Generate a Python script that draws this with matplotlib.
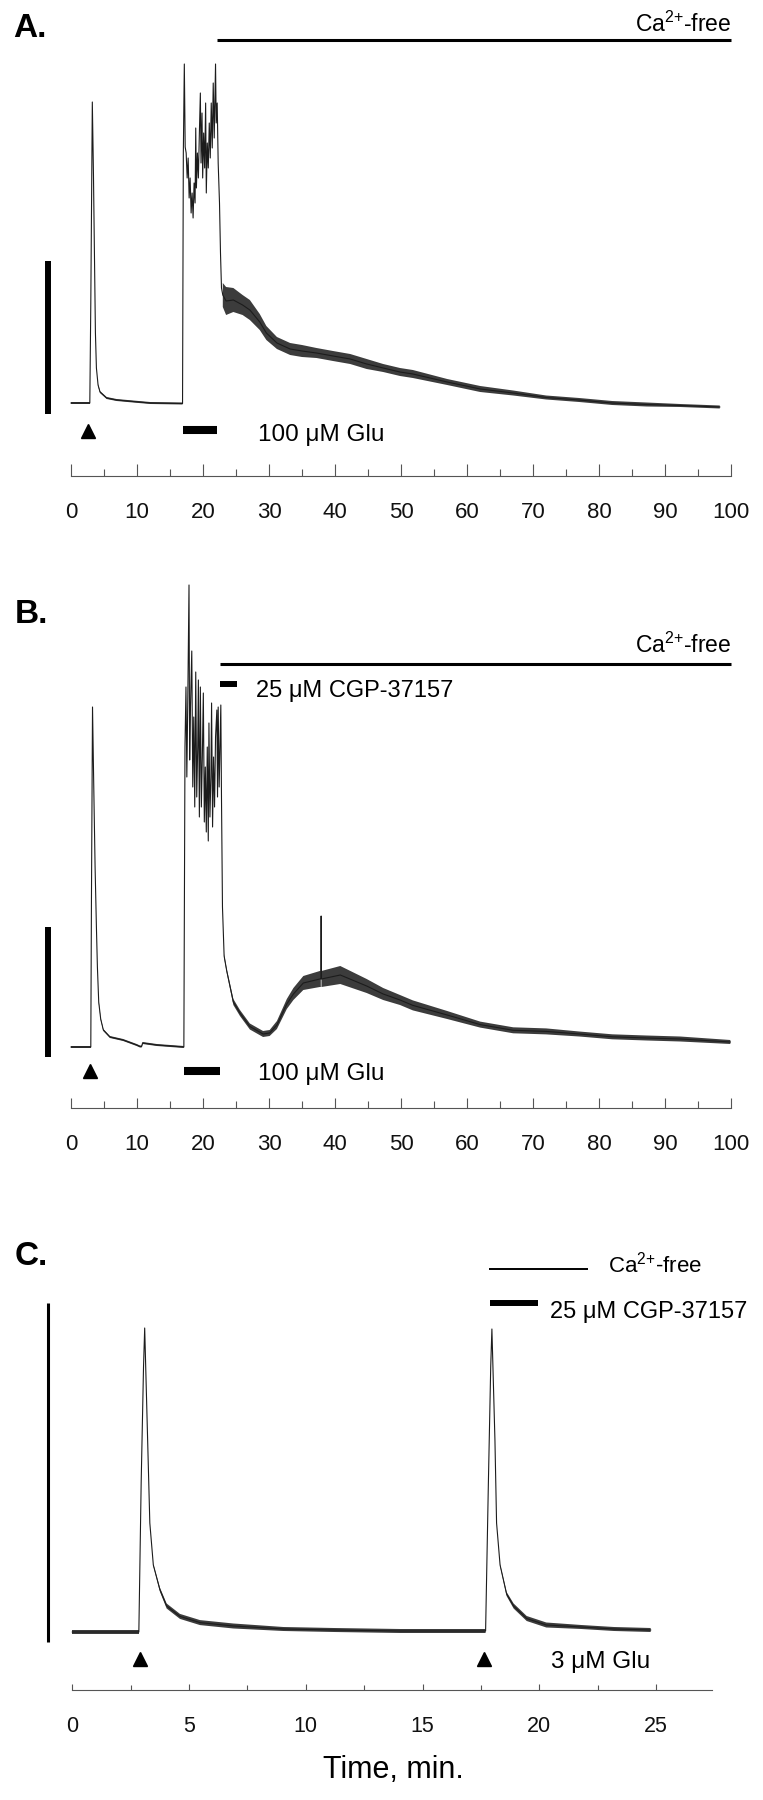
import matplotlib
matplotlib.use("Agg")
import matplotlib.pyplot as plt
import numpy as np
from matplotlib.ticker import FixedLocator

plt.rcParams['font.family'] = ['Liberation Sans', 'DejaVu Sans']
plt.rcParams['mathtext.fontset'] = 'custom'
plt.rcParams['mathtext.rm'] = 'Liberation Sans'
plt.rcParams['mathtext.it'] = 'Liberation Sans:italic'
plt.rcParams['mathtext.bf'] = 'Liberation Sans:bold'

# ---------------- data (time in min, signal in arbitrary units) ----------------
a_time = [0.0, 2.85, 3.0, 3.23, 3.4, 3.55, 3.7, 3.85, 4.1, 4.4, 5.4, 6.9, 9.4, 12.0, 16.9,
          17.02, 17.17, 17.3, 17.45, 17.6, 17.75, 17.9, 18.05, 18.2, 18.35, 18.5, 18.65, 18.8,
          18.9, 19.0, 19.15, 19.3, 19.45, 19.6, 19.7, 19.85, 19.95, 20.1, 20.25, 20.4, 20.5,
          20.65, 20.8, 20.95, 21.1, 21.25, 21.4, 21.55, 21.7, 21.9, 22.0, 22.15, 22.3, 22.5,
          22.65, 22.8, 23.0, 23.5, 24.6, 26.0, 27.1, 28.6, 29.6, 31.2, 33.2, 35.0, 37.2, 39.7,
          42.3, 44.8, 47.3, 49.85, 51.8, 57.0, 62.0, 67.0, 72.0, 77.0, 82.0, 87.2, 92.3, 98.3]
a_signal = [0, 0, 100, 301, 230, 150, 70, 35, 18, 11, 5, 3, 1.5, 0, -0.5,
            250, 339, 256, 250, 225, 245, 205, 225, 190, 210, 185, 220, 200,
            275, 215, 250, 225, 270, 310, 240, 290, 225, 270, 235, 300, 210,
            260, 235, 280, 245, 300, 255, 320, 265, 339, 280, 300, 240, 200,
            150, 115, 108, 102, 103, 98, 93, 81, 70, 60, 54, 52, 50, 47,
            44, 39, 35, 31, 29, 21, 14, 10, 5.5, 3, 0, -1.5, -2.5, -4]
a_noise = [1, 1, 0, 0, 0, 0, 0, 0, 1, 1, 1, 1, 1, 1, 1,
           0, 0, 0, 0, 0, 0, 0, 0, 0, 0, 0, 0, 0,
           0, 0, 0, 0, 0, 0, 0, 0, 0, 0, 0, 0, 0,
           0, 0, 0, 0, 0, 0, 0, 0, 0, 0, 0, 0, 0,
           0, 0, 12, 14, 12, 10, 10, 8, 7, 6, 6, 6, 5, 5,
           5, 5, 4, 4, 4, 3, 3, 2.5, 2, 2, 2, 2, 1.5, 1.5]

b_time = [0.0, 3.0, 3.1, 3.26, 3.45, 3.65, 3.85, 4.0, 4.2, 4.5, 4.9, 5.9, 7.9, 9.95, 10.45,
          10.7, 10.85, 13.0, 17.1, 17.27, 17.42, 17.55, 17.7, 17.88, 17.98, 18.1, 18.3, 18.45,
          18.6, 18.75, 18.9, 19.05, 19.2, 19.3, 19.45, 19.6, 19.75, 19.9, 20.05, 20.2, 20.35,
          20.5, 20.65, 20.8, 20.9, 21.05, 21.2, 21.3, 21.45, 21.6, 21.75, 21.9, 22.1, 22.2,
          22.3, 22.45, 22.7, 22.8, 22.95, 23.2, 23.6, 24.6, 25.6, 27.1, 29.1, 30.1, 31.2, 32.7,
          33.7, 35.2, 37.7, 37.85, 37.9, 37.95, 40.8, 42.8, 44.8, 47.3, 49.85, 51.8, 57.0,
          62.0, 67.0, 72.0, 77.0, 82.0, 87.2, 92.3, 99.9]
b_signal = [0, 0, 150, 340, 260, 180, 120, 80, 45, 28, 17, 10, 7, 2, 0.5,
            0.5, 4, 2, 0, 300, 360, 270, 350, 462, 287, 340, 396, 260,
            330, 240, 375, 250, 300, 367, 230, 360, 240, 290, 354, 225, 280,
            215, 300, 206, 324, 230, 270, 344, 220, 290, 240, 310, 337, 250,
            340, 260, 342, 250, 140, 91, 76, 45, 34, 20.5, 13, 14, 22, 43,
            53, 64, 68, 68, 131, 68, 72, 66.5, 61, 53, 47, 41.6, 32,
            22.4, 16.7, 15.6, 13, 10.2, 9, 8, 5]
b_noise = [1, 1, 0, 0, 0, 0, 0, 0, 1, 1, 1, 1, 1, 1, 1,
           1, 1, 1, 1, 0, 0, 0, 0, 0, 0, 0, 0, 0,
           0, 0, 0, 0, 0, 0, 0, 0, 0, 0, 0, 0, 0,
           0, 0, 0, 0, 0, 0, 0, 0, 0, 0, 0, 0, 0,
           0, 0, 0, 0, 0, 2, 2, 3, 3, 3, 3, 3, 4, 5,
           6, 7, 8, 8, 0, 8, 9, 8, 7, 6, 5, 5, 4,
           3, 3, 3, 2.5, 2.5, 2.5, 2.5, 2]

c_time = [0.0, 2.85, 2.95, 3.05, 3.1, 3.18, 3.32, 3.47, 3.75, 4.04, 4.61, 5.47, 6.9, 9.04,
          11.2, 14.04, 17.7, 17.82, 17.92, 17.97, 18.1, 18.17, 18.32, 18.6, 18.9, 19.46, 20.3,
          21.8, 23.2, 24.77]
c_signal = [0, 0, 150, 265, 304, 233, 109, 67, 42.5, 26, 15.6, 9.4, 6, 3,
            2, 1, 1, 150, 266, 303, 192, 109, 67, 38, 26, 13.5, 7,
            5, 3, 2]
c_noise = [2, 2, 0, 0, 0, 0, 0, 1, 2, 2.5, 2.5, 2.5, 2.5, 2,
           2, 2, 2, 0, 0, 0, 0, 0, 1, 2, 2.5, 2.5, 2.5,
           2, 2, 2]

ab_ticks = [0, 10, 20, 30, 40, 50, 60, 70, 80, 90, 100]
ab_minor = [5, 15, 25, 35, 45, 55, 65, 75, 85, 95]
c_ticks = [0, 5, 10, 15, 20, 25]
c_minor = [2.5, 7.5, 12.5, 17.5, 22.5]

glu_a = (17.0, 22.1)
glu_b = (17.1, 22.6)
ca_a = (22.1, 100)
ca_b = (22.6, 100)
cgp_b = (22.6, 25.1)
ca_c = (17.86, 22.1)
cgp_c = (17.9, 19.93)
stim_a = [2.6]
stim_b = [2.9]
stim_c = [2.91, 17.62]

CA_LABEL = r'Ca$^{\mathregular{2{+}}}$-free'

# ---------------- figure ----------------
W, H = 763, 1800
fig = plt.figure(figsize=(W / 100, H / 100), dpi=100)
TRACE = '#1c1c1c'
BAND = '#3c3c3c'
AXC = '#555555'


def make_axes(top_px, bot_px, base_px, x0_px, scale):
    ax = fig.add_axes([0, 1 - bot_px / H, 1, (bot_px - top_px) / H])
    ax.set_xlim(-x0_px / scale, (W - x0_px) / scale)
    ax.set_ylim(base_px - bot_px, base_px - top_px)
    ax.patch.set_alpha(0)
    for s in ['top', 'right', 'left']:
        ax.spines[s].set_visible(False)
    ax.set_yticks([])
    return ax


def style_xaxis(ax, ypos, bounds, major, minor, lmaj, lmin, lsize):
    ax.spines['bottom'].set_position(('data', ypos))
    ax.spines['bottom'].set_bounds(*bounds)
    ax.spines['bottom'].set_color(AXC)
    ax.spines['bottom'].set_linewidth(0.8)
    ax.xaxis.set_major_locator(FixedLocator(major))
    ax.xaxis.set_minor_locator(FixedLocator(minor))
    ax.set_xticklabels([str(v) for v in major])
    ax.tick_params(axis='x', which='major', direction='in', length=lmaj, width=0.8,
                   color=AXC, pad=19, labelsize=lsize, labelcolor='#111111')
    ax.tick_params(axis='x', which='minor', direction='in', length=lmin, width=0.8,
                   color=AXC)


def draw_trace(ax, t, y, w):
    t = np.asarray(t, float)
    y = np.asarray(y, float)
    w = np.asarray(w, float)
    ax.fill_between(t, y - w, y + w, where=w > 0, color=BAND, lw=0)
    ax.plot(t, y, color=TRACE, lw=0.8)


TXT = 17.5

# ---- Panel A ----
axA = make_axes(0, 540, 403, 71, 6.6)
draw_trace(axA, a_time, a_signal, a_noise)
style_xaxis(axA, -73, (0, 100), ab_ticks, ab_minor, 8.3, 5.4, 16)
axA.plot([-3.48, -3.48], [142, -11], color='k', lw=4.3, solid_capstyle='butt')
axA.plot(ca_a, [363, 363], color='k', lw=2.2, solid_capstyle='butt')
axA.text(100, 371, CA_LABEL, ha='right', va='baseline', fontsize=16.5)
axA.plot(glu_a, [-27, -27], color='k', lw=5.8, solid_capstyle='butt')
axA.plot(stim_a, [-28] * len(stim_a), ls='none', marker='^', ms=9.5, color='k')
axA.text(28.4, -38, '100 \u03bcM Glu', ha='left', va='baseline', fontsize=TXT)

# ---- Panel B ----
axB = make_axes(540, 1160, 1047, 71, 6.6)
draw_trace(axB, b_time, b_signal, b_noise)
style_xaxis(axB, -61, (0, 100), ab_ticks, ab_minor, 7.5, 5.0, 16)
axB.plot([-3.48, -3.48], [120, -10], color='k', lw=4.3, solid_capstyle='butt')
axB.plot(ca_b, [383, 383], color='k', lw=2.2, solid_capstyle='butt')
axB.text(100, 394, CA_LABEL, ha='right', va='baseline', fontsize=16.5)
axB.plot(cgp_b, [363, 363], color='k', lw=4.3, solid_capstyle='butt')
axB.text(28.0, 350, '25 \u03bcM CGP-37157', ha='left', va='baseline', fontsize=17)
axB.plot(glu_b, [-24, -24], color='k', lw=5.8, solid_capstyle='butt')
axB.plot(stim_b, [-24] * len(stim_b), ls='none', marker='^', ms=9.5, color='k')
axB.text(28.4, -33, '100 \u03bcM Glu', ha='left', va='baseline', fontsize=TXT)

# ---- Panel C ----
axC = make_axes(1160, 1800, 1632, 72.3, 23.35)
draw_trace(axC, c_time, c_signal, c_noise)
style_xaxis(axC, -58, (0, 27.4), c_ticks, c_minor, 4.5, 3.4, 15.5)
axC.plot([-1.02, -1.02], [329, -10], color='k', lw=2.2, solid_capstyle='butt')
axC.plot(ca_c, [363, 363], color='k', lw=1.4, solid_capstyle='butt')
axC.text(22.95, 360, CA_LABEL, ha='left', va='baseline', fontsize=16)
axC.plot(cgp_c, [329, 329], color='k', lw=4.3, solid_capstyle='butt')
axC.text(20.46, 314, '25 \u03bcM CGP-37157', ha='left', va='baseline', fontsize=17)
axC.plot(stim_c, [-27] * len(stim_c), ls='none', marker='^', ms=9.5, color='k')
axC.text(20.5, -36, '3 \u03bcM Glu', ha='left', va='baseline', fontsize=TXT)

# ---- labels ----
fig.text(13 / W, 1 - 37 / H, 'A.', fontsize=24, fontweight='bold', ha='left', va='baseline')
fig.text(15 / W, 1 - 623 / H, 'B.', fontsize=24, fontweight='bold', ha='left', va='baseline')
fig.text(15 / W, 1 - 1265 / H, 'C.', fontsize=24, fontweight='bold', ha='left', va='baseline')
fig.text(393 / W, 1 - 1778 / H, 'Time, min.', fontsize=22, ha='center', va='baseline')

fig.savefig('out.png', dpi=100)
